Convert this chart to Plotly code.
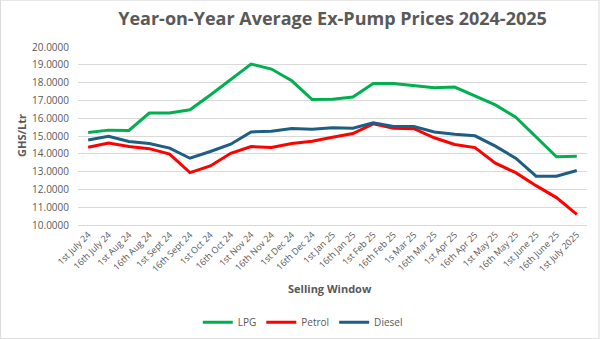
import plotly.graph_objects as go

categories = ["1st July 24", "16th July 24", "1st Aug 24", "16th Aug 24", "1st Sept 24",
              "16th Sept 24", "1st Oct 24", "16th Oct 24", "1st Nov 24", "16th Nov 24",
              "1st Dec 24", "16th Dec 24", "1st Jan 25", "16th Jan 25", "1st Feb 25",
              "16th Feb 25", "1s Mar 25", "16th Mar 25", "1st Apr 25", "16th Apr 25",
              "1st May 25", "16th May 25", "1st June 25", "16th June 25", "1st July 2025"]

lpg = [15.20, 15.33, 15.31, 16.29, 16.29, 16.47, 17.30, 18.16, 19.04, 18.76,
       18.10, 17.05, 17.06, 17.19, 17.95, 17.95, 17.82, 17.71, 17.75, 17.26,
       16.75, 16.06, 14.93, 13.83, 13.86]
petrol = [14.37, 14.61, 14.41, 14.29, 13.98, 12.94, 13.32, 14.03, 14.41, 14.35,
          14.58, 14.71, 14.93, 15.14, 15.68, 15.44, 15.41, 14.90, 14.52, 14.35,
          13.47, 12.94, 12.21, 11.54, 10.60]
diesel = [14.78, 14.99, 14.69, 14.58, 14.32, 13.75, 14.13, 14.54, 15.23, 15.27,
          15.42, 15.38, 15.46, 15.44, 15.74, 15.53, 15.53, 15.23, 15.10, 15.01,
          14.43, 13.75, 12.74, 12.74, 13.06]

series = [("LPG", lpg, "#00B050"), ("Petrol", petrol, "#FF0000"), ("Diesel", diesel, "#1D5E82")]

fig = go.Figure()
for name, vals, col in series:
    fig.add_trace(go.Scatter(x=list(range(len(categories))), y=vals, mode="lines", name=name,
                             line=dict(color=col, width=3)))

L, R, T, B = 78, 12.5, 47.3, 114
W, H = 600, 339
pw, ph = W - L - R, H - T - B

def px(x):
    return (x - L) / pw

def py(y):
    return (H - B - y) / ph

fig.update_layout(
    width=W, height=H,
    margin=dict(l=L, r=R, t=T, b=B, pad=0, autoexpand=False),
    paper_bgcolor="white", plot_bgcolor="white",
    font=dict(family="Open Sans", color="#595959"),
    title=dict(text="<b>Year-on-Year Average Ex-Pump Prices 2024-2025</b>",
               x=0.5, xref="paper", xanchor="center", y=1 - 19 / H, yref="container", yanchor="middle",
               font=dict(size=18, color="#595959", family="Open Sans")),
    xaxis=dict(tickmode="array", tickvals=list(range(len(categories))), ticktext=categories,
               range=[-0.5, len(categories) - 0.5], tickangle=-45, automargin=False,
               tickfont=dict(size=9, color="#595959"),
               showgrid=False, showline=True, linecolor="#D9D9D9", linewidth=1,
               ticks="", zeroline=False),
    yaxis=dict(range=[10, 20], dtick=1, tick0=10, tickformat=".4f", automargin=False,
               tickfont=dict(size=10, color="#595959"),
               showgrid=True, gridcolor="#D9D9D9", gridwidth=1, zeroline=False,
               showline=False, ticks="", ticklabelstandoff=8),
    showlegend=True,
    legend=dict(orientation="h", x=px(303), xanchor="center", y=py(322), yanchor="middle",
                font=dict(size=10, color="#595959"), itemwidth=30, tracegroupgap=0,
                bgcolor="rgba(0,0,0,0)"),
    annotations=[
        dict(text="<b>Selling Window</b>", x=px(330), y=py(288), xref="paper", yref="paper",
             showarrow=False, font=dict(size=11, color="#595959"), xanchor="center", yanchor="middle"),
        dict(text="<b>GHS/Ltr</b>", x=px(22), y=py(136), xref="paper", yref="paper",
             showarrow=False, textangle=-90, font=dict(size=11, color="#595959"),
             xanchor="center", yanchor="middle"),
    ],
    shapes=[dict(type="rect", xref="paper", yref="paper",
                 x0=px(0.5), x1=px(W - 0.5), y0=py(H - 0.5), y1=py(0.5),
                 line=dict(color="#D9D9D9", width=1), fillcolor="rgba(0,0,0,0)", layer="above")],
)

fig.write_html("out.html")
